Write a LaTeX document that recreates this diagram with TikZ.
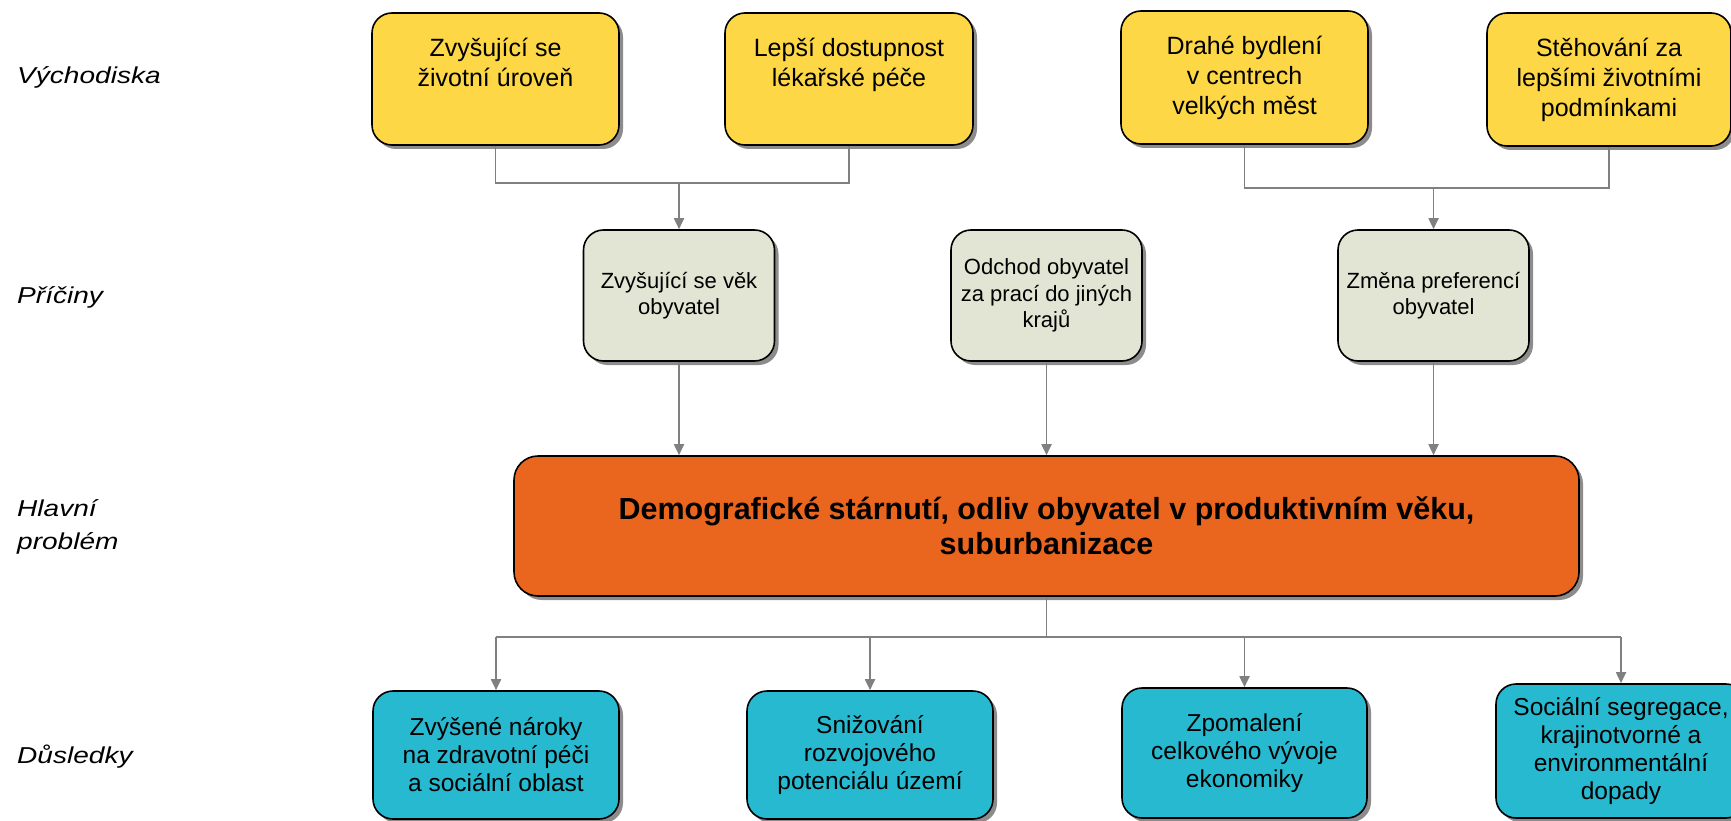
\documentclass[tikz,border=0pt]{standalone}
\usepackage{fontspec}
\setmainfont{Liberation Sans}
\newfontfamily\lblfont[FakeStretch=1.22]{Liberation Sans}
\usetikzlibrary{shadows,arrows.meta}
\definecolor{yelc}{HTML}{FDD745}
\definecolor{gryc}{HTML}{E2E5D3}
\definecolor{orgc}{HTML}{EA661F}
\definecolor{bluc}{HTML}{27B9D0}
\definecolor{conc}{HTML}{808080}
\begin{document}
\begin{tikzpicture}[x=1pt,y=-1pt,
  box/.style={draw=black, line width=1.6pt, rounded corners=20pt, align=center, inner sep=0pt,
    drop shadow={shadow xshift=4pt, shadow yshift=-4pt, fill=black!45, opacity=1}},
  yelbox/.style={box, fill=yelc, minimum width=247pt, minimum height=132pt, font=\fontsize{25}{30}\selectfont},
  grybox/.style={box, fill=gryc, minimum width=191pt, minimum height=131pt, font=\fontsize{22}{26.5}\selectfont},
  orgbox/.style={box, fill=orgc, rounded corners=24pt, minimum width=1065pt, minimum height=140pt, font=\fontsize{30.5}{35}\selectfont\bfseries},
  blubox/.style={box, fill=bluc, minimum width=246pt, minimum height=128pt, font=\fontsize{24.5}{28}\selectfont},
  lbl/.style={anchor=west, align=left, inner sep=0pt, font=\fontsize{23}{33}\selectfont\lblfont\itshape},
  conn/.style={draw=conc, line width=1.8pt},
  arr/.style={conn, -{Triangle[length=11pt,width=10pt]}}
]
\useasboundingbox (0,0) rectangle (1731,821);

% row labels
\node[lbl] (l1) at (17,77) {Východiska};
\node[lbl] (l2) at (17,297) {Příčiny};
\node[lbl] (l3) at (17,527) {Hlavní\\problém};
\node[lbl] (l4) at (17,757) {Důsledky};

% starting points
\node[yelbox] (y1) at (495.5,79) {Zvyšující se\\životní úroveň\\[4pt]};
\node[yelbox, minimum width=248pt] (y2) at (849,79) {Lepší dostupnost\\lékařské péče\\[4pt]};
\node[yelbox, minimum height=133pt] (y3) at (1244.5,77.5) {Drahé bydlení\\v centrech\\velkých měst};
\node[yelbox, minimum width=244pt, minimum height=133pt] (y4) at (1609,79.5) {Stěhování za\\lepšími životními\\podmínkami};

% causes
\node[grybox] (g1) at (679,295.5) {Zvyšující se věk\\obyvatel};
\node[grybox] (g2) at (1046.5,295.5) {Odchod obyvatel\\za prací do jiných\\krajů};
\node[grybox] (g3) at (1433.5,295.5) {Změna preferencí\\obyvatel};

% main problem
\node[orgbox] (o) at (1046.5,526) {Demografické stárnutí, odliv obyvatel v produktivním věku,\\suburbanizace};

% consequences
\node[blubox] (b1) at (496,755) {Zvýšené nároky\\na zdravotní péči\\a sociální oblast};
\node[blubox] (b2) at (870,755) {Snižování\\rozvojového\\potenciálu území};
\node[blubox, minimum width=245pt, minimum height=130pt] (b3) at (1244.5,753) {Zpomalení\\celkového vývoje\\ekonomiky};
\node[blubox, minimum width=250pt, minimum height=134pt] (b4) at (1621,751) {Sociální segregace,\\krajinotvorné a\\environmentální\\dopady};

% junctions
\coordinate (j1) at (679,183);
\coordinate (j2) at (1433.5,188);
\coordinate (j3) at (1046.5,637);

\draw[conn] (y1.south) |- (j1);
\draw[conn] (y2.south) |- (j1);
\draw[arr] (j1) -- (g1.north);

\draw[conn] (y3.south) |- (j2);
\draw[conn] (y4.south) |- (j2);
\draw[arr] (j2) -- (g3.north);

\draw[arr] (g1.south) -- (g1.south |- o.north);
\draw[arr] (g2.south) -- (g2.south |- o.north);
\draw[arr] (g3.south) -- (g3.south |- o.north);

\draw[conn] (o.south) -- (j3);
\draw[conn] (b1.north |- j3) -- (b4.north |- j3);
\draw[arr] (b1.north |- j3) -- (b1.north);
\draw[arr] (b2.north |- j3) -- (b2.north);
\draw[arr] (b3.north |- j3) -- (b3.north);
\draw[arr] (b4.north |- j3) -- (b4.north);
\end{tikzpicture}
\end{document}
